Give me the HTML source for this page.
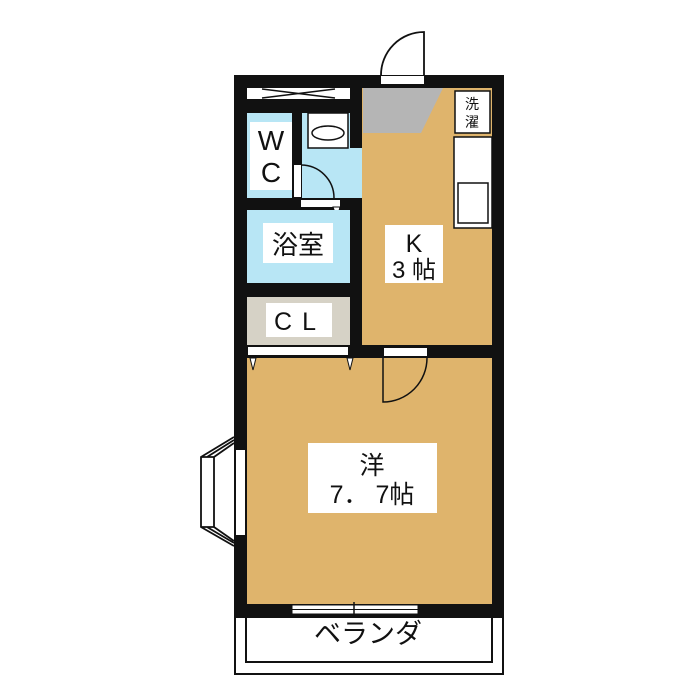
<!DOCTYPE html>
<html><head><meta charset="utf-8"><style>
html,body{margin:0;padding:0;background:#fff;width:700px;height:700px;overflow:hidden}
svg text{font-family:"Liberation Sans","Noto Sans CJK JP",sans-serif;fill:#111}
</style></head><body>
<svg width="700" height="700" viewBox="0 0 700 700" xmlns="http://www.w3.org/2000/svg">
<rect width="700" height="700" fill="#fff"/>
<rect x="235" y="612" width="268" height="62" fill="#fff" stroke="#111" stroke-width="2"/>
<rect x="246" y="612" width="246" height="50" fill="#fff" stroke="#111" stroke-width="2"/>
<rect x="234" y="75" width="270" height="543" fill="#111"/>
<rect x="362" y="88" width="130" height="257" fill="#dfb46c"/>
<polygon points="363,88 443,88 421,133 363,133" fill="#b5b5b5"/>
<rect x="455" y="91" width="35" height="42" fill="#fff" stroke="#111" stroke-width="1.5"/>
<text x="472" y="109" font-size="14" text-anchor="middle">洗</text>
<text x="472" y="127" font-size="14" text-anchor="middle">濯</text>
<rect x="454" y="137" width="38" height="91" fill="#fff" stroke="#111" stroke-width="1.5"/>
<rect x="458" y="183" width="30" height="40" fill="#fff" stroke="#111" stroke-width="1.5"/>
<rect x="385" y="225" width="58" height="58" fill="#fff"/>
<text x="414" y="252" font-size="25" text-anchor="middle">K</text>
<text x="414" y="278" font-size="24" text-anchor="middle">3 帖</text>
<rect x="247" y="88" width="103" height="11" fill="#fff"/>
<path d="M262,89 L335,98 M262,98 L335,89" stroke="#111" stroke-width="1.5"/>
<rect x="247" y="113" width="45" height="85" fill="#b8e6f5"/>
<rect x="250" y="122" width="42" height="68" fill="#fff"/>
<text x="271" y="150" font-size="28" text-anchor="middle">W</text>
<text x="271" y="182" font-size="28" text-anchor="middle">C</text>
<rect x="302" y="113" width="48" height="85" fill="#b8e6f5"/>
<rect x="350" y="148" width="12" height="50" fill="#b8e6f5"/>
<rect x="308" y="113" width="40" height="35" fill="#fff" stroke="#111" stroke-width="1.5"/>
<ellipse cx="328" cy="133" rx="16" ry="7" fill="#fff" stroke="#111" stroke-width="1.5"/>
<rect x="294" y="165" width="7" height="32" fill="#fff"/>
<path d="M301,165 A33,33 0 0 1 334,198" fill="none" stroke="#111" stroke-width="1.5"/>
<rect x="301" y="200" width="39" height="7" fill="#fff"/>
<polygon points="333,207 340,207 337,218" fill="#fff" stroke="#111" stroke-width="1"/>
<rect x="247" y="210" width="103" height="73" fill="#b8e6f5"/>
<rect x="263" y="223" width="70" height="40" fill="#fff"/>
<text x="298" y="254" font-size="26" text-anchor="middle">浴室</text>
<rect x="247" y="297" width="103" height="48" fill="#d6d2c6"/>
<rect x="266" y="303" width="66" height="34" fill="#fff"/>
<text x="300" y="330" font-size="25" text-anchor="middle" letter-spacing="10">CL</text>
<rect x="248" y="347" width="100" height="8" fill="#fff"/>
<rect x="247" y="358" width="245" height="246" fill="#dfb46c"/>
<polygon points="250,358 256,358 253,370" fill="#fff" stroke="#111" stroke-width="1"/>
<polygon points="347,358 353,358 350,370" fill="#fff" stroke="#111" stroke-width="1"/>
<rect x="384" y="348" width="43" height="8" fill="#fff"/>
<path d="M383,358 L383,402 A44,44 0 0 0 427,358" fill="none" stroke="#111" stroke-width="1.5"/>
<rect x="308" y="443" width="129" height="70" fill="#fff"/>
<text x="372" y="474" font-size="25" text-anchor="middle">洋</text>
<text x="372" y="503" font-size="25" text-anchor="middle">7． 7帖</text>
<rect x="236" y="450" width="9" height="85" fill="#fff"/>
<path d="M234,437 L201,457 L201,527 L234,546 M234,443 L214,457 L214,527 L234,541 M201,457 L214,457 M201,527 L214,527 M234,440 L207,457 M234,543 L207,527" fill="none" stroke="#111" stroke-width="1.8"/>
<rect x="292" y="605" width="126" height="9" fill="#fff" stroke="#111" stroke-width="1"/>
<line x1="292" y1="609.5" x2="418" y2="609.5" stroke="#111" stroke-width="1"/>
<line x1="354" y1="602" x2="354" y2="617" stroke="#111" stroke-width="1.5"/>
<text x="368" y="643" font-size="27" text-anchor="middle">ベランダ</text>
<rect x="381" y="76" width="43" height="8" fill="#fff"/>
<path d="M424,75 L424,32 A43,43 0 0 0 381,75" fill="none" stroke="#111" stroke-width="1.8"/>
</svg>
</body></html>
